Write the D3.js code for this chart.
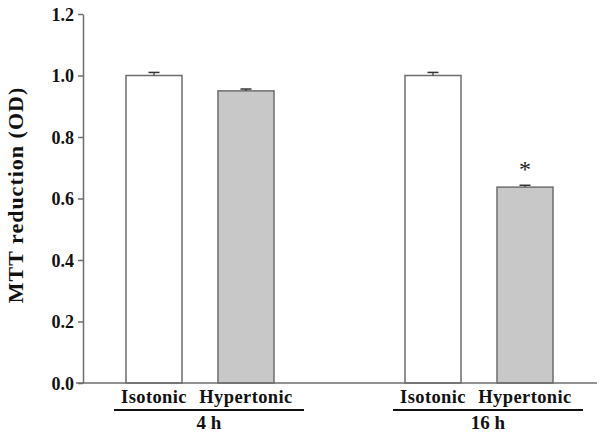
<!DOCTYPE html>
<html><head><meta charset="utf-8">
<script src="https://cdn.jsdelivr.net/npm/d3@7"></script>
<style>body{margin:0;background:#fff}svg{display:block}</style>
</head><body>
<script>
const groups = ["4 h", "16 h"];
const treatments = ["Isotonic", "Hypertonic"];
const means = [[1.0, 0.95], [1.0, 0.637]];
const errors = [[0.01, 0.006], [0.01, 0.006]];
const significant = [[false, false], [false, true]];
const yTicks = [0.0, 0.2, 0.4, 0.6, 0.8, 1.0, 1.2];
const fills = ["#ffffff", "#c8c8c8"];

const W = 602, H = 436;
const svg = d3.select("body").append("svg").attr("width", W).attr("height", H);
const font = "'Times New Roman','Liberation Serif',serif";
const axisColor = "#6e6e6e";

const y = d3.scaleLinear().domain([0, 1.2]).range([383, 14]);
const xGroup = d3.scalePoint().domain(groups).range([200, 479]);
const xTreat = d3.scaleBand().domain(treatments).range([-74, 74]).paddingInner(0.391).paddingOuter(0);

// bars
groups.forEach((g, gi) => {
  treatments.forEach((t, ti) => {
    const x0 = xGroup(g) + xTreat(t);
    const bw = xTreat.bandwidth();
    const v = means[gi][ti], e = errors[gi][ti];
    svg.append("rect").attr("x", x0).attr("y", y(v)).attr("width", bw).attr("height", y(0) - y(v))
      .attr("fill", fills[ti]).attr("stroke", axisColor).attr("stroke-width", 1.5);
    const cx = x0 + bw / 2;
    svg.append("line").attr("x1", cx).attr("x2", cx).attr("y1", y(v)).attr("y2", y(v + e))
      .attr("stroke", "#333").attr("stroke-width", 1.2);
    svg.append("line").attr("x1", cx - 5.5).attr("x2", cx + 5.5).attr("y1", y(v + e)).attr("y2", y(v + e))
      .attr("stroke", "#333").attr("stroke-width", 1.5);
    if (significant[gi][ti]) {
      svg.append("text").attr("x", cx).attr("y", y(v + e) - 8).attr("text-anchor", "middle")
        .attr("font-family", font).attr("font-size", 24).attr("fill", "#222").text("*");
    }
  });
});

// y axis
const yAxis = svg.append("g").attr("transform", "translate(83,0)")
  .call(d3.axisLeft(y).tickValues(yTicks).tickFormat(d3.format(".1f")).tickSize(5).tickSizeOuter(0));
yAxis.select(".domain").attr("stroke", axisColor).attr("stroke-width", 1.5);
yAxis.selectAll(".tick line").attr("stroke", axisColor).attr("stroke-width", 1.5);
yAxis.selectAll(".tick text").attr("font-family", font).attr("font-weight", "bold")
  .attr("font-size", 18).attr("fill", "#111").attr("x", -9).attr("dy", "0.35em");

// x axis line
svg.append("line").attr("x1", 76).attr("x2", 597).attr("y1", y(0)).attr("y2", y(0))
  .attr("stroke", axisColor).attr("stroke-width", 1.5);

// category labels
groups.forEach((g, gi) => {
  treatments.forEach(t => {
    svg.append("text").attr("x", xGroup(g) + xTreat(t) + xTreat.bandwidth() / 2).attr("y", 403)
      .attr("text-anchor", "middle").attr("font-family", font).attr("font-weight", "bold")
      .attr("font-size", 18.5).attr("letter-spacing", 0.4).attr("fill", "#111").text(t);
  });
  const gx0 = xGroup(g) - 86;
  const gx1 = xGroup(g) + 104;
  svg.append("line").attr("x1", gx0).attr("x2", gx1).attr("y1", 410).attr("y2", 410)
    .attr("stroke", "#111").attr("stroke-width", 2);
  svg.append("text").attr("x", (gx0 + gx1) / 2).attr("y", 429).attr("text-anchor", "middle")
    .attr("font-family", font).attr("font-weight", "bold").attr("font-size", 19).attr("fill", "#111").text(g);
});

// y title
svg.append("text").attr("transform", "translate(23,195) rotate(-90)").attr("text-anchor", "middle")
  .attr("font-family", font).attr("font-weight", "bold").attr("font-size", 22).attr("letter-spacing", 1)
  .attr("fill", "#111").text("MTT reduction (OD)");
</script>
</body></html>
